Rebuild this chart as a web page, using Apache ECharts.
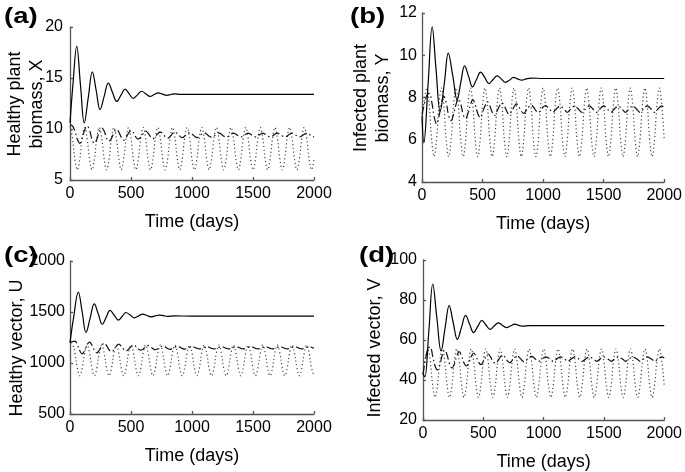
<!DOCTYPE html>
<html><head><meta charset="utf-8">
<script src="https://cdn.jsdelivr.net/npm/echarts@6/dist/echarts.min.js"></script>
<style>html,body{margin:0;padding:0;background:#fff}#c{width:685px;height:472px}</style>
</head><body><div id="c"></div>
<script>
// ---------- DATA ----------
const days = [0,20,40,60,80,100,120,140,160,180,200,220,240,260,280,300,320,340,360,380,400,420,440,460,480,500,520,540,560,580,600,620,640,660,680,700,720,740,760,780,800,820,840,860,880,900,920,940,960,980,1000,1020,1040,1060,1080,1100,1120,1140,1160,1180,1200,1220,1240,1260,1280,1300,1320,1340,1360,1380,1400,1420,1440,1460,1480,1500,1520,1540,1560,1580,1600,1620,1640,1660,1680,1700,1720,1740,1760,1780,1800,1820,1840,1860,1880,1900,1920,1940,1960,1980,2000];
const xTicks = [0,500,1000,1500,2000];

// (a) Healthy plant biomass X
const solidA_t = [0,25,55,86,117,150,183,215,246,280,314,348,383,417,451,485,519,553,587,621,656,690,724,758,793,827,861,900,1000,1500,2000];
const solidA_y = [10.6,14.5,18.1,14.3,10.6,13.1,15.6,13.75,11.9,13.2,14.5,13.6,12.7,13.3,13.9,13.45,13.0,13.35,13.7,13.45,13.2,13.38,13.55,13.42,13.3,13.38,13.45,13.4,13.4,13.4,13.4];
const dashA = [10.4,10.3,9.8,9.0,8.6,9.1, 9.9,10.3,9.9,9.0,8.6,9.0, 9.7,10.1,9.8,9.1,8.8,9.1, 9.6,9.95,9.7,9.2,8.9,9.15,
 9.6,9.85,9.65,9.2,9.0,9.2, 9.55,9.8,9.6,9.25,9.05,9.25, 9.55,9.7,9.55,9.25,9.1,9.25, 9.55,9.7,9.55,9.3,9.15,9.3,
 9.5,9.65,9.5,9.3,9.15,9.3, 9.5,9.62,9.5,9.3,9.2,9.3, 9.5,9.62,9.5,9.3,9.2,9.3, 9.48,9.6,9.48,9.32,9.22,9.32,
 9.48,9.6,9.48,9.32,9.22,9.32, 9.48,9.6,9.48,9.32,9.22,9.32, 9.48,9.6,9.48,9.32,9.22,9.32, 9.48,9.6,9.48,9.32,9.22,9.32,
 9.48,9.6,9.48,9.32,9.22];
const dotA = [10.3,9.1,7.05,6.0,7.05,9.1, 10.15,9.1,7.05,6.0,7.05,9.1, 10.15,9.1,7.05,6.0,7.05,9.1, 10.15,9.1,7.05,6.0,7.05,9.1,
 10.15,9.1,7.05,6.0,7.05,9.1, 10.15,9.1,7.05,6.0,7.05,9.1, 10.15,9.1,7.05,6.0,7.05,9.1, 10.15,9.1,7.05,6.0,7.05,9.1,
 10.15,9.1,7.05,6.0,7.05,9.1, 10.15,9.1,7.05,6.0,7.05,9.1, 10.15,9.1,7.05,6.0,7.05,9.1, 10.15,9.1,7.05,6.0,7.05,9.1,
 10.15,9.1,7.05,6.0,7.05,9.1, 10.15,9.1,7.05,6.0,7.05,9.1, 10.15,9.1,7.05,6.0,7.05,9.1, 10.15,9.1,7.05,6.0,7.05,9.1,
 10.15,9.1,7.05,6.0,7.05];

// (b) Infected plant biomass Y
const solidB_t = [0,15,50,84,115,150,185,217,255,290,320,352,385,417,450,484,518,553,587,621,655,689,722,756,790,825,860,900,1000,1500,2000];
const solidB_y = [7.1,5.85,8.6,11.35,9.4,7.35,8.7,10.1,9.0,7.88,8.7,9.5,9.0,8.5,8.85,9.2,8.95,8.66,8.85,9.02,8.88,8.72,8.82,8.95,8.88,8.82,8.88,8.92,8.9,8.9,8.9];
const dashB = [7.2,7.7,8.1,8.2,7.8,7.1, 6.75,7.1,7.7,8.05,7.75,7.15, 6.9,7.2,7.65,7.95,7.7,7.2, 7.0,7.25,7.65,7.9,7.65,7.25,
 7.05,7.3,7.6,7.8,7.6,7.3, 7.15,7.35,7.6,7.75,7.6,7.35, 7.2,7.35,7.55,7.7,7.55,7.35, 7.25,7.38,7.55,7.65,7.55,7.38,
 7.28,7.4,7.55,7.62,7.52,7.4, 7.3,7.4,7.52,7.6,7.52,7.4, 7.3,7.4,7.52,7.6,7.52,7.4, 7.3,7.4,7.52,7.6,7.52,7.4,
 7.3,7.4,7.52,7.6,7.52,7.4, 7.3,7.4,7.52,7.6,7.52,7.4, 7.3,7.4,7.52,7.6,7.52,7.4, 7.3,7.4,7.52,7.6,7.52,7.4,
 7.3,7.4,7.52,7.6,7.52];
const dotB = [7.1,7.9,8.45,7.64,6.0,5.2, 6.0,7.64,8.45,7.64,6.0,5.2, 6.0,7.64,8.45,7.64,6.0,5.2, 6.0,7.64,8.45,7.64,6.0,5.2,
 6.0,7.64,8.45,7.64,6.0,5.2, 6.0,7.64,8.45,7.64,6.0,5.2, 6.0,7.64,8.45,7.64,6.0,5.2, 6.0,7.64,8.45,7.64,6.0,5.2,
 6.0,7.64,8.45,7.64,6.0,5.2, 6.0,7.64,8.45,7.64,6.0,5.2, 6.0,7.64,8.45,7.64,6.0,5.2, 6.0,7.64,8.45,7.64,6.0,5.2,
 6.0,7.64,8.45,7.64,6.0,5.2, 6.0,7.64,8.45,7.64,6.0,5.2, 6.0,7.64,8.45,7.64,6.0,5.2, 6.0,7.64,8.45,7.64,6.0,5.2,
 6.0,7.64,8.45,7.64,6.0];

// (c) Healthy vector U
const solidC_t = [0,30,68,100,131,165,199,232,265,297,328,362,396,428,459,493,527,561,596,630,664,698,732,766,800,850,1000,1500,2000];
const solidC_y = [1200,1450,1695,1500,1300,1440,1580,1480,1380,1450,1515,1470,1420,1458,1495,1470,1443,1460,1480,1466,1452,1462,1470,1464,1457,1462,1460,1460,1460];
const dashC = [1200,1210,1215,1180,1120,1090, 1120,1180,1205,1175,1125,1100, 1125,1170,1195,1170,1130,1110, 1130,1165,1185,1165,1135,1118,
 1135,1160,1178,1162,1138,1125, 1138,1158,1172,1160,1140,1130, 1140,1155,1168,1158,1142,1133, 1142,1154,1165,1156,1143,1136,
 1143,1153,1162,1155,1144,1138, 1143,1153,1162,1155,1144,1138, 1143,1153,1162,1155,1144,1138, 1143,1153,1162,1155,1144,1138,
 1143,1153,1162,1155,1144,1138, 1143,1153,1162,1155,1144,1138, 1143,1153,1162,1155,1144,1138, 1143,1153,1162,1155,1144,1138,
 1143,1153,1162,1155,1144];
const dotC = [1190,1180,1100,950,875,950, 1100,1175,1100,950,875,950, 1100,1175,1100,950,875,950, 1100,1175,1100,950,875,950,
 1100,1175,1100,950,875,950, 1100,1175,1100,950,875,950, 1100,1175,1100,950,875,950, 1100,1175,1100,950,875,950,
 1100,1175,1100,950,875,950, 1100,1175,1100,950,875,950, 1100,1175,1100,950,875,950, 1100,1175,1100,950,875,950,
 1100,1175,1100,950,875,950, 1100,1175,1100,950,875,950, 1100,1175,1100,950,875,950, 1100,1175,1100,950,875,950,
 1100,1175,1100,950,875];

// (d) Infected vector V
const solidD_t = [0,15,48,81,115,150,183,217,251,285,319,353,386,420,454,488,522,556,590,624,657,691,725,760,795,830,880,1000,1500,2000];
const solidD_y = [43,41.5,64,88,71,54.5,66,77.2,68.5,60.3,66.3,72.3,68,63.7,66.8,69.8,67.5,65.3,67,68.6,67.4,66.2,67,67.9,67.3,66.9,67.2,67.2,67.2,67.2];
const dashD = [43,50,55.5,56.5,52,47, 45,47.5,52.5,55,52.5,48, 46,48,52,54.2,52,48.5, 47,48.8,51.8,53.5,51.8,49,
 47.7,49.2,51.6,53,51.6,49.3, 48.3,49.5,51.4,52.5,51.4,49.6, 48.7,49.8,51.2,52.1,51.2,49.9, 49,50,51.1,51.8,51.1,50,
 49.3,50.1,51,51.6,51,50.2, 49.3,50.1,51,51.6,51,50.2, 49.3,50.1,51,51.6,51,50.2, 49.3,50.1,51,51.6,51,50.2,
 49.3,50.1,51,51.6,51,50.2, 49.3,50.1,51,51.6,51,50.2, 49.3,50.1,51,51.6,51,50.2, 49.3,50.1,51,51.6,51,50.2,
 49.3,50.1,51,51.6,51];
const dotD = [43,51,55.5,49.5,37.4,31.3, 37.4,49.5,55.5,49.5,37.4,31.3, 37.4,49.5,55.5,49.5,37.4,31.3, 37.4,49.5,55.5,49.5,37.4,31.3,
 37.4,49.5,55.5,49.5,37.4,31.3, 37.4,49.5,55.5,49.5,37.4,31.3, 37.4,49.5,55.5,49.5,37.4,31.3, 37.4,49.5,55.5,49.5,37.4,31.3,
 37.4,49.5,55.5,49.5,37.4,31.3, 37.4,49.5,55.5,49.5,37.4,31.3, 37.4,49.5,55.5,49.5,37.4,31.3, 37.4,49.5,55.5,49.5,37.4,31.3,
 37.4,49.5,55.5,49.5,37.4,31.3, 37.4,49.5,55.5,49.5,37.4,31.3, 37.4,49.5,55.5,49.5,37.4,31.3, 37.4,49.5,55.5,49.5,37.4,31.3,
 37.4,49.5,55.5,49.5,37.4];

const panelLabels = ['(a)','(b)','(c)','(d)'];
const yNameLines = [['Healthy plant','biomass, X'],['Infected plant','biomass, Y'],['Healthy vector, U'],['Infected vector, V']];
const yRanges = [[5,20,5],[4,12,2],[500,2000,500],[20,100,20]];

// ---------- CHART ----------
const FONT = "'Liberation Sans', Arial, Helvetica, sans-serif";
const grids = [
  {left:70, top:27, width:244, height:153},
  {left:422, top:13, width:246, height:169},
  {left:70, top:261, width:244, height:153},
  {left:423, top:260, width:246, height:161}
];
const yLabelMargin = [7,5,5,6];
const labelPos = [[4,6],[350,6],[4,245],[359,245]];
// centres of y-axis title lines [x, y]
const yNamePos = [[[15,104],[37,104]], [[361,98],[383,98]], [[17,348]], [[375,348]]];

const axisLineStyle = {color:'#555', width:1.3};
const xAxes = grids.map((g,i)=>({
  type:'value', gridIndex:i, min:0, max:2000, interval:500,
  axisLine:{show:true, onZero:false, lineStyle:axisLineStyle},
  axisTick:{show:true, inside:true, length:3, lineStyle:axisLineStyle},
  axisLabel:{color:'#000', fontSize:16, fontFamily:FONT, margin:6,
    formatter:v=> xTicks.indexOf(v)>=0 ? String(v) : ''},
  splitLine:{show:false},
  name:'Time (days)', nameLocation:'middle', nameGap:33,
  nameTextStyle:{color:'#000', fontSize:18, fontFamily:FONT}
}));
const yAxes = grids.map((g,i)=>({
  type:'value', gridIndex:i, min:yRanges[i][0], max:yRanges[i][1], interval:yRanges[i][2],
  axisLine:{show:true, onZero:false, lineStyle:axisLineStyle},
  axisTick:{show:true, inside:true, length:3, lineStyle:axisLineStyle},
  axisLabel:{color:'#000', fontSize:16, fontFamily:FONT, margin:yLabelMargin[i], formatter:v=>String(v)},
  splitLine:{show:false}
}));

function pairs(t,y){ return t.map((v,k)=>[v,y[k]]); }
const solidStyle = {color:'#000', width:1.2, type:'solid'};
const dashStyle = {color:'#111', width:1.2, type:[8,3,1.5,3]};
const dotStyle = {color:'#444', width:1.2, type:[1.2,2.6]};
function line(i, data, style, z){
  return {type:'line', xAxisIndex:i, yAxisIndex:i, data:data, showSymbol:false, symbol:'none',
    smooth:0.4, lineStyle:style, z:z, silent:true};
}
const panels = [
  [pairs(solidA_t,solidA_y), pairs(days,dashA), pairs(days,dotA)],
  [pairs(solidB_t,solidB_y), pairs(days,dashB), pairs(days,dotB)],
  [pairs(solidC_t,solidC_y), pairs(days,dashC), pairs(days,dotC)],
  [pairs(solidD_t,solidD_y), pairs(days,dashD), pairs(days,dotD)]
];
const series = [];
panels.forEach((p,i)=>{
  series.push(line(i, p[2], dotStyle, 2));
  series.push(line(i, p[1], dashStyle, 3));
  series.push(line(i, p[0], solidStyle, 4));
});

const graphics = [];
panelLabels.forEach((t,i)=>{
  graphics.push({type:'text', x:labelPos[i][0], y:labelPos[i][1], scaleX:1.25,
    style:{text:t, fill:'#000', font:"bold 22px "+FONT}});
});
yNameLines.forEach((lines,i)=>{
  lines.forEach((t,k)=>{
    graphics.push({type:'text', x:yNamePos[i][k][0], y:yNamePos[i][k][1], rotation:Math.PI/2,
      style:{text:t, fill:'#000', font:"18px "+FONT, align:'center', verticalAlign:'middle'}});
  });
});

const chart = echarts.init(document.getElementById('c'), null, {renderer:'canvas'});
chart.setOption({
  animation:false,
  backgroundColor:'#fff',
  grid:grids,
  xAxis:xAxes,
  yAxis:yAxes,
  series:series,
  graphic: graphics
});
</script>
</body></html>
